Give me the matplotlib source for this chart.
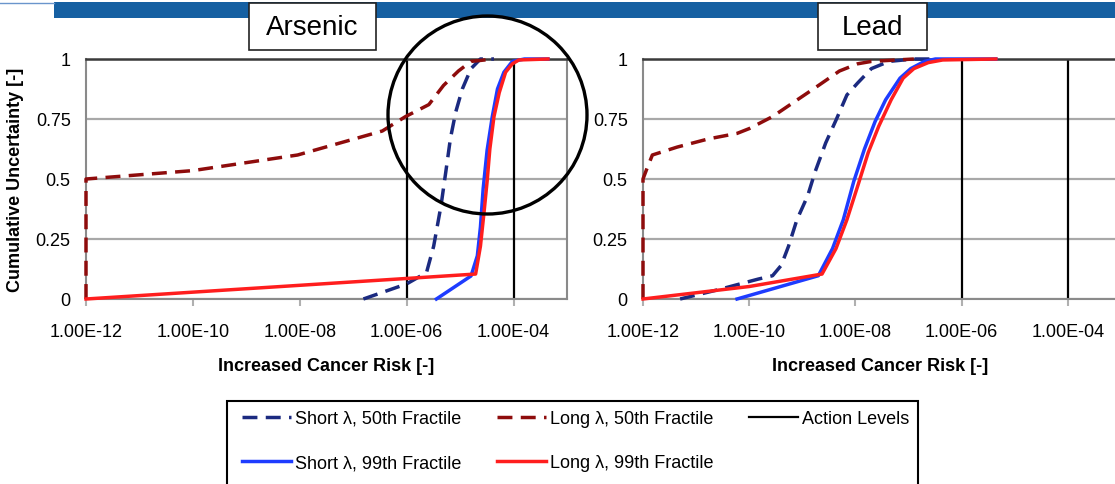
import matplotlib
matplotlib.use("Agg")
import matplotlib.pyplot as plt
from matplotlib.patches import Rectangle, Ellipse
from matplotlib.lines import Line2D

plt.rcParams['font.family'] = ['Liberation Sans', 'DejaVu Sans']

# ---- data ----
panels = ['Arsenic', 'Lead']
x_ticks = [1e-12, 1e-10, 1e-8, 1e-6, 1e-4]
x_tick_labels = ['1.00E-12', '1.00E-10', '1.00E-08', '1.00E-06', '1.00E-04']
y_ticks = [0, 0.25, 0.5, 0.75, 1]
y_tick_labels = ['0', '0.25', '0.5', '0.75', '1']
action_levels = [1e-6, 1e-4]

# Arsenic
as_short50_x = [1.55e-7, 1.0e-6, 2.35e-6, 3.2e-6, 4.4e-6, 5.4e-6, 6.6e-6, 8.3e-6, 1.1e-5, 1.6e-5, 2.4e-5, 4.3e-5]
as_short50_y = [0, 0.063, 0.11, 0.22, 0.39, 0.53, 0.67, 0.78, 0.875, 0.96, 1.0, 1.0]
as_short99_x = [3.6e-6, 1.6e-5, 2.1e-5, 2.4e-5, 2.7e-5, 3.2e-5, 4.0e-5, 5.0e-5, 6.6e-5, 9.5e-5, 1.6e-4, 4.4e-4]
as_short99_y = [0, 0.096, 0.18, 0.30, 0.46, 0.62, 0.76, 0.875, 0.945, 0.99, 1.0, 1.0]
as_long50_x = [1e-12, 1e-12, 1e-10, 9.1e-9, 3.5e-7, 9.5e-7, 2.6e-6, 4.9e-6, 9.3e-6, 1.6e-5, 4.3e-5]
as_long50_y = [0, 0.5, 0.535, 0.6, 0.70, 0.76, 0.81, 0.89, 0.95, 0.99, 1.0]
as_long99_x = [1e-12, 1.95e-5, 2.4e-5, 2.8e-5, 3.2e-5, 3.6e-5, 4.3e-5, 5.4e-5, 7.1e-5, 9.5e-5, 1.26e-4, 4.4e-4]
as_long99_y = [0, 0.104, 0.22, 0.36, 0.49, 0.625, 0.76, 0.86, 0.945, 0.98, 0.996, 1.0]

# Lead
pb_short50_x = [5.0e-12, 2.75e-11, 1.48e-10, 2.75e-10, 4.0e-10, 5.5e-10, 7.9e-10, 1.26e-9, 1.74e-9,
                2.75e-9, 4.4e-9, 6.9e-9, 1.1e-8, 2.0e-8, 4.3e-8, 1.26e-7, 2.75e-7]
pb_short50_y = [0, 0.04, 0.083, 0.097, 0.14, 0.22, 0.33, 0.43, 0.53, 0.65, 0.75, 0.85, 0.90, 0.96, 0.99, 1.0, 1.0]
pb_short99_x = [5.9e-11, 2.0e-9, 3.7e-9, 5.9e-9, 9.3e-9, 1.48e-8, 2.35e-8, 3.7e-8, 6.9e-8, 1.1e-7, 2.0e-7, 3.2e-7, 4.4e-6]
pb_short99_y = [0, 0.097, 0.21, 0.33, 0.49, 0.625, 0.74, 0.83, 0.92, 0.96, 0.99, 1.0, 1.0]
pb_long50_x = [1e-12, 1e-12, 1.17e-12, 1.5e-12, 4.4e-12, 1.7e-11, 5.9e-11, 1.0e-10, 2.75e-10, 6.9e-10,
               1.74e-9, 5.0e-9, 1.1e-8, 2.0e-8, 1.26e-7]
pb_long50_y = [0, 0.5, 0.54, 0.60, 0.633, 0.667, 0.69, 0.71, 0.76, 0.82, 0.88, 0.95, 0.98, 0.99, 1.0]
pb_long99_x = [1e-12, 1e-10, 2.35e-9, 4.3e-9, 6.9e-9, 1.1e-8, 1.74e-8, 2.75e-8, 4.7e-8, 7.9e-8, 1.26e-7,
               2.35e-7, 4.4e-7, 4.4e-6]
pb_long99_y = [0, 0.052, 0.104, 0.21, 0.33, 0.47, 0.61, 0.72, 0.83, 0.92, 0.96, 0.985, 0.996, 1.0]

series_labels = ['Short λ, 50th Fractile', 'Short λ, 99th Fractile',
                 'Long λ, 50th Fractile', 'Long λ, 99th Fractile', 'Action Levels']

data = {
    'Arsenic': [(as_short50_x, as_short50_y), (as_short99_x, as_short99_y),
                (as_long50_x, as_long50_y), (as_long99_x, as_long99_y)],
    'Lead': [(pb_short50_x, pb_short50_y), (pb_short99_x, pb_short99_y),
             (pb_long50_x, pb_long50_y), (pb_long99_x, pb_long99_y)],
}

# ---- styles ----
colors = ['#1B2A80', '#1E3CFF', '#8E0C0C', '#FF1E1E']
dash = (0, (4.3, 2.4))
styles = [dash, '-', dash, '-']
lw = 2.5
fs = 13

W, H = 1115, 485
fig = plt.figure(figsize=(W / 100, H / 100), dpi=100)

# top banner
fig.add_artist(Rectangle((54 / W, 1 - 19 / H), 1 - 54 / W, 16 / H, transform=fig.transFigure,
                         facecolor='#1660A2', edgecolor='none'))
fig.add_artist(Line2D([0, 54 / W], [1 - 3.5 / H, 1 - 3.5 / H], transform=fig.transFigure,
                      color='#6A95CC', lw=1))

axes_pos = {'Arsenic': [86 / W, 185 / H, 481 / W, 240 / H],
            'Lead': [643 / W, 185 / H, 478 / W, 240 / H]}
title_box = {'Arsenic': (249, 376), 'Lead': (818, 927)}
xlabel_center = {'Arsenic': 326, 'Lead': 880}

handles = []
for name in panels:
    ax = fig.add_axes(axes_pos[name])
    ax.set_xscale('log')
    ax.set_xlim(1e-12, 1e-3)
    ax.set_ylim(0, 1)
    ax.set_yticks(y_ticks)
    ax.set_yticklabels(y_tick_labels, fontsize=fs)
    ax.set_xticks(x_ticks)
    ax.set_xticklabels(x_tick_labels, fontsize=fs)
    ax.minorticks_off()
    ax.tick_params(axis='y', length=0, pad=11)
    ax.tick_params(axis='x', length=5, width=1.5, color='#B0B0B0', pad=12)
    ax.grid(axis='y', color='#A8A8A8', lw=1.6)
    ax.set_axisbelow(True)
    for s in ['left', 'bottom', 'right']:
        ax.spines[s].set_color('#8A8A8A')
        ax.spines[s].set_linewidth(1.5)
    ax.spines['top'].set_color('#3A3A3A')
    ax.spines['top'].set_linewidth(1.8)

    h_act = None
    for a in action_levels:
        h_act = ax.axvline(a, color='black', lw=1.6, zorder=2)
    hs = []
    for (xs, ys), c, st in zip(data[name], colors, styles):
        ln, = ax.plot(xs, ys, color=c, linestyle=st, lw=lw, zorder=3, clip_on=False)
        hs.append(ln)
    handles = hs + [h_act]

    ax.set_xlabel('Increased Cancer Risk [-]', fontsize=fs, fontweight='bold')
    x_left = axes_pos[name][0] * W
    x_width = axes_pos[name][2] * W
    ax.xaxis.set_label_coords((xlabel_center[name] - x_left) / x_width, -0.243)
    if name == 'Arsenic':
        ax.set_ylabel('Cumulative Uncertainty [-]', fontsize=fs, fontweight='bold')
        ax.yaxis.set_label_coords(-0.128, 0.5)

    x0, x1 = title_box[name]
    fig.add_artist(Rectangle((x0 / W, 1 - 51 / H), (x1 - x0) / W, 47 / H, transform=fig.transFigure,
                             facecolor='white', edgecolor='#222222', lw=1.2))
    fig.text((x0 + x1) / 2 / W, 1 - 28 / H, name, fontsize=20, ha='center', va='center')

# highlight circle
fig.add_artist(Ellipse((487.5 / W, 1 - 116 / H), 199 / W, 198 / H, transform=fig.transFigure,
                       facecolor='none', edgecolor='black', lw=2.4))

# legend
fig.add_artist(Rectangle((227 / W, -10 / H), (918 - 227) / W, (485 - 402 + 10) / H,
                         transform=fig.transFigure, facecolor='white', edgecolor='black', lw=1.5))
fig.legend(handles, series_labels,
           loc='upper left', bbox_to_anchor=(242 / W, 1 - 411 / H), ncol=3, frameon=False,
           fontsize=fs, handlelength=2.7, handletextpad=0.25, labelspacing=1.52,
           columnspacing=1.95, borderpad=0, borderaxespad=0)

fig.savefig('out.png', dpi=100)
